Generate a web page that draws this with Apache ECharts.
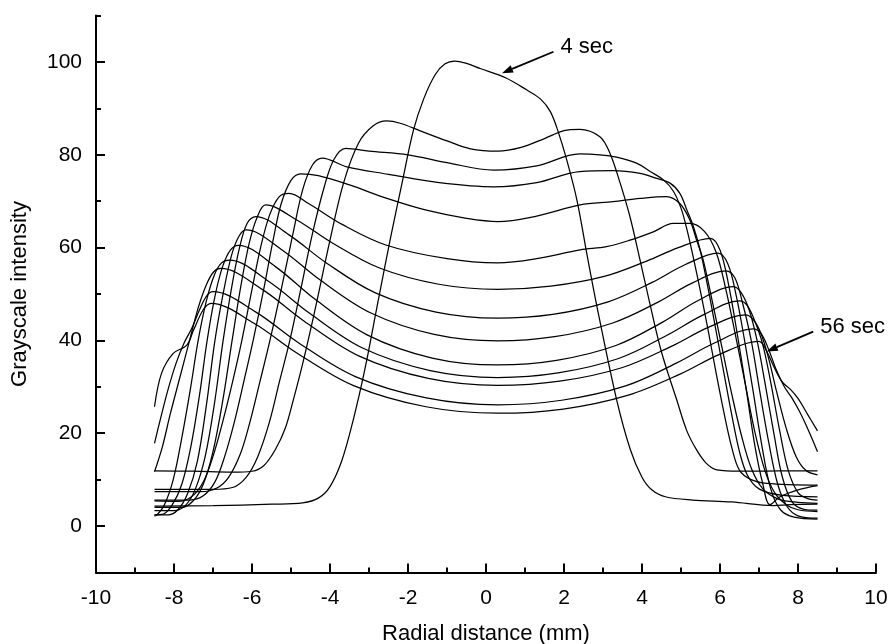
<!DOCTYPE html>
<html>
<head>
<meta charset="utf-8">
<script src="https://cdn.jsdelivr.net/npm/echarts@6/dist/echarts.min.js"></script>
<style>
  html, body { margin: 0; padding: 0; background: #fff; }
  #chart { width: 889px; height: 644px; }
</style>
</head>
<body>
<div id="chart"></div>
<script>
// radial profiles, [radial distance (mm), grayscale intensity], one per 4 s
const t04 = [[-8.5,4.3],[-7.0,4.4],[-5.5,4.7],[-4.7,5.0],[-4.3,6.0],[-4.0,8.5],[-3.7,14],[-3.4,23],[-3.1,34],[-2.8,47],[-2.46,61.6],[-2.15,74],[-1.86,85.3],[-1.6,92],[-1.3,97.3],[-1.05,99.6],[-0.8,100.2],[-0.5,99.7],[-0.15,98.6],[0.5,96.6],[1.04,94.0],[1.4,92],[1.65,89.3],[1.85,85],[2.07,78.9],[2.33,70.3],[2.6,58],[2.9,45],[3.35,27.2],[3.7,16.5],[4.0,10.5],[4.25,7.8],[4.6,6.3],[5.3,5.6],[6.3,5.2],[7.36,4.4],[7.8,4.6],[8.5,4.7]]
const t08 = [[-8.5,11.9],[-7.5,11.8],[-6.5,11.6],[-6.0,11.8],[-5.7,13],[-5.4,16.5],[-5.15,21],[-4.94,27.2],[-4.7,35],[-4.4,46],[-4.0,61.6],[-3.65,74],[-3.27,82.5],[-2.9,86.2],[-2.55,87.3],[-2.2,86.8],[-1.7,85.2],[-1.0,83.0],[-0.4,81.3],[0.3,80.8],[0.9,81.6],[1.5,83.5],[2.0,85.2],[2.4,85.5],[2.92,83.9],[3.18,80.3],[3.44,73.9],[3.69,66.7],[3.95,57.3],[4.2,48],[4.5,37.5],[4.89,27.2],[5.15,20.5],[5.4,16.4],[5.65,13.5],[5.92,12.1],[6.5,11.8],[7.5,11.9],[8.5,11.9]]
const t12 = [[-8.5,7.9],[-7.0,7.9],[-6.5,8.3],[-6.15,10.5],[-5.85,15],[-5.55,22.5],[-5.3,31],[-5.03,40],[-4.75,51],[-4.45,63],[-4.15,73],[-3.9,79],[-3.6,81.4],[-3.0,80.8],[-2.0,80.0],[-1.0,78.3],[0.2,76.7],[1.3,77.6],[2.4,80.2],[2.92,80.0],[3.35,79.5],[3.86,78.2],[4.21,76.4],[4.55,74.6],[4.8,72.2],[5.0,68.5],[5.15,64],[5.3,58.5],[5.5,50.5],[5.7,42],[5.9,33],[6.1,24.5],[6.3,17],[6.5,12],[6.8,10],[7.2,9.2],[8.5,8.8]]
const t16 = [[-8.5,7.4],[-7.3,7.4],[-6.9,8.2],[-6.6,10.5],[-6.3,15.5],[-6.05,22.5],[-5.8,31],[-5.54,40],[-5.25,51],[-4.95,63],[-4.7,72.5],[-4.45,77.8],[-4.2,79.3],[-3.57,77.4],[-2.5,75.8],[-1.2,74],[0.2,73.1],[1.3,74],[2.4,76.4],[3.26,76.6],[3.95,76.0],[4.38,74.9],[4.72,73.9],[4.97,71.7],[5.15,68.1],[5.32,64.5],[5.49,59.5],[5.7,51],[5.9,42],[6.1,33],[6.3,24],[6.5,16],[6.7,11],[7.0,8],[7.6,6.6],[8.5,6.3]]
const t20 = [[-8.5,5.6],[-7.6,5.6],[-7.25,6.5],[-6.95,9.5],[-6.7,15],[-6.45,22.5],[-6.2,31.5],[-5.97,40],[-5.7,51],[-5.45,62],[-5.25,69.5],[-5.0,74.5],[-4.75,75.9],[-4.3,75.5],[-3.5,73.5],[-2.5,70.5],[-1.5,68],[-0.5,66.3],[0.3,65.6],[1.3,66.8],[2.41,69.2],[3.26,69.9],[3.95,70.6],[4.63,71.0],[4.97,69.5],[5.23,65.9],[5.4,61.6],[5.57,57.3],[5.8,48.5],[6.05,38.5],[6.3,28.5],[6.55,19.5],[6.8,12.5],[7.1,8],[7.5,5.8],[8.0,5.1],[8.5,4.9]]
const t24 = [[-8.5,5.4],[-7.9,5.3],[-7.55,6.3],[-7.25,9.5],[-7.0,15],[-6.75,22.5],[-6.5,31],[-6.26,40],[-6.0,51],[-5.78,60],[-5.55,67],[-5.3,71],[-5.05,71.7],[-4.55,69.5],[-3.69,65.0],[-2.55,60.5],[-1.0,57.6],[0.3,56.7],[1.3,57.6],[2.41,59.5],[3.09,60.2],[3.69,61.6],[4.29,63.4],[4.8,65.2],[5.23,65.2],[5.6,63.5],[5.9,59],[6.15,51],[6.4,41],[6.65,30.5],[6.9,20],[7.15,12],[7.4,7.2],[7.7,4.6],[8.0,3.5],[8.5,3.1]]
const t28 = [[-8.5,4.0],[-7.8,4.0],[-7.5,5.5],[-7.25,9],[-7.0,16],[-6.75,27],[-6.51,40],[-6.28,52],[-6.07,61],[-5.87,66.5],[-5.65,69.2],[-4.84,65.9],[-3.94,61.0],[-2.73,55.6],[-1.21,52.1],[0.3,51.0],[1.66,51.7],[3.03,53.8],[4.12,57.1],[4.93,60.0],[5.75,62.0],[6.0,59.5],[6.22,52],[6.45,41],[6.68,29],[6.9,17],[7.1,9],[7.28,4.6],[7.54,6.3],[8.0,7.8],[8.5,8.7]]
const t32 = [[-8.5,3.3],[-8.0,3.3],[-7.7,4.5],[-7.45,8],[-7.2,15],[-6.97,26],[-6.74,40],[-6.52,51.5],[-6.32,60],[-6.12,65.3],[-5.9,66.7],[-5.06,62.8],[-4.11,56.8],[-2.85,50.3],[-1.28,46.1],[0.3,44.8],[1.71,45.6],[3.13,48.3],[4.26,52.5],[5.1,56.3],[5.95,58.8],[6.2,56.5],[6.42,49.5],[6.63,40],[6.85,29],[7.07,17.5],[7.3,8],[7.55,3.5],[7.9,1.9],[8.5,1.5]]
const t36 = [[-8.5,2.4],[-8.15,2.4],[-7.9,3.5],[-7.65,7],[-7.4,14],[-7.17,26],[-6.95,40],[-6.73,50.5],[-6.52,58.5],[-6.33,62.5],[-6.15,63.8],[-5.23,59.5],[-4.25,53.0],[-2.95,45.9],[-1.33,41.3],[0.3,39.9],[1.76,40.8],[3.23,43.7],[4.4,48.2],[5.27,52.3],[6.15,55.0],[6.38,53.5],[6.58,48],[6.8,40],[7.02,29],[7.25,18],[7.48,9],[7.72,4.2],[8.0,2.2],[8.5,1.7]]
const t40 = [[-8.5,2.4],[-8.3,2.5],[-8.05,4.5],[-7.8,9],[-7.57,17],[-7.35,28],[-7.15,40],[-6.95,49.5],[-6.75,56],[-6.55,59.5],[-6.35,60.5],[-5.4,55.9],[-4.39,48.9],[-3.05,41.2],[-1.38,36.2],[0.3,34.7],[1.81,35.7],[3.33,38.9],[4.54,44.0],[5.44,48.6],[6.35,51.6],[6.55,50.2],[6.75,46.5],[6.95,40],[7.15,31],[7.38,20],[7.6,10.5],[7.85,5.2],[8.15,3.6],[8.5,3.4]]
const t44 = [[-8.5,2.2],[-8.45,2.3],[-8.25,4.5],[-8.02,10],[-7.8,19],[-7.58,29.5],[-7.38,40],[-7.17,48.5],[-6.97,54],[-6.78,56.7],[-6.58,57.3],[-5.57,52.7],[-4.53,45.9],[-3.15,38.3],[-1.43,33.5],[0.3,32.0],[1.85,33.0],[3.4,36.1],[4.64,41.1],[5.57,45.5],[6.5,48.5],[6.7,47.5],[6.9,44],[7.1,39],[7.3,31],[7.52,21],[7.75,12],[8.0,7.2],[8.25,5.9],[8.5,5.6]]
const t48 = [[-8.5,11.7],[-8.3,17],[-8.1,24],[-7.85,32],[-7.6,40],[-7.38,47],[-7.17,52],[-6.98,54.8],[-6.8,55.5],[-5.74,51.0],[-4.67,44.2],[-3.25,36.6],[-1.48,31.8],[0.3,30.3],[1.89,31.2],[3.48,34.1],[4.75,38.7],[5.7,42.8],[6.65,45.5],[6.85,44.5],[7.05,41.5],[7.25,36],[7.45,29],[7.7,21],[7.95,15],[8.2,12],[8.5,11.0]]
const t52 = [[-8.5,17.8],[-8.35,23],[-8.15,29.5],[-7.95,35],[-7.75,39.3],[-7.55,42.5],[-7.35,46.5],[-7.17,49.5],[-7.0,50.5],[-5.9,46.1],[-4.81,39.5],[-3.35,32.2],[-1.53,27.6],[0.3,26.1],[1.94,27.1],[3.58,30.2],[4.88,35.1],[5.87,39.5],[6.85,42.5],[7.05,41.5],[7.25,38],[7.45,33.5],[7.65,30],[7.85,27.5],[8.05,24.5],[8.3,20],[8.5,16]]
const t56 = [[-8.5,25.7],[-8.32,32.9],[-8.02,37.2],[-7.67,39.0],[-7.5,42.2],[-7.25,46.6],[-7.05,48.0],[-5.95,43.7],[-4.85,37.3],[-3.38,30.2],[-1.54,25.7],[0.3,24.3],[1.98,25.2],[3.65,28.2],[4.99,32.8],[5.99,37.0],[7.0,39.8],[7.2,37.6],[7.4,34],[7.6,31],[7.8,29.5],[8.0,27.5],[8.25,24],[8.5,20.5]]

const profiles = [t04, t08, t12, t16, t20, t24, t28, t32, t36, t40, t44, t48, t52, t56]
const yMajorTicks = [0, 20, 40, 60, 80, 100]
const yMinorTicks = [10, 30, 50, 70, 90, 110]
// annotation arrows: [tail, head] in data units, and their captions
const arrowTails = [[1.73, 102.2], [8.39, 41.9]]
const arrowHeads = [[0.41, 97.6], [7.2, 37.6]]
const arrowTexts = ['4 sec', '56 sec']

const font = 'Liberation Sans, Arial, Helvetica, sans-serif'
const chart = echarts.init(document.getElementById('chart'), null, { renderer: 'canvas' })

const seriesData = profiles.map(function (pts, i) {
  return {
    name: (i + 1) * 4 + ' sec',
    type: 'line',
    data: pts,
    smooth: 0.35,
    showSymbol: false,
    silent: true,
    lineStyle: { color: '#000', width: 1.25 }
  }
})

chart.setOption({
  animation: false,
  backgroundColor: '#fff',
  grid: { left: 96, right: 13, top: 15.6, bottom: 71.6, outerBoundsMode: 'none', containLabel: false },
  xAxis: {
    type: 'value',
    min: -10,
    max: 10,
    interval: 2,
    name: 'Radial distance (mm)',
    nameLocation: 'middle',
    nameGap: 51,
    nameTextStyle: { fontFamily: font, fontSize: 22, color: '#000' },
    axisLine: { onZero: false, lineStyle: { color: '#000', width: 2 } },
    axisTick: { inside: true, length: 9, lineStyle: { color: '#000', width: 2 } },
    minorTick: { show: true, splitNumber: 2, length: 5, lineStyle: { color: '#000', width: 2 } },
    axisLabel: { fontFamily: font, fontSize: 21, color: '#000', margin: 15 },
    splitLine: { show: false }
  },
  yAxis: [{
    type: 'value',
    min: -10,
    max: 110,
    name: 'Grayscale intensity',
    nameLocation: 'middle',
    nameGap: 65,
    nameTextStyle: { fontFamily: font, fontSize: 22, color: '#000' },
    axisLine: { onZero: false, lineStyle: { color: '#000', width: 2 } },
    axisTick: { inside: true, length: 9, customValues: yMajorTicks, lineStyle: { color: '#000', width: 2 } },
    axisLabel: { fontFamily: font, fontSize: 21, color: '#000', margin: 14, customValues: yMajorTicks },
    splitLine: { show: false }
  }, {
    type: 'value',
    min: -10,
    max: 110,
    position: 'left',
    axisLine: { show: false, onZero: false },
    axisTick: { inside: true, length: 5, customValues: yMinorTicks, lineStyle: { color: '#000', width: 2 } },
    axisLabel: { show: false },
    splitLine: { show: false }
  }],
  series: seriesData
})

// arrows and captions, placed from their data positions
const graphics = []
arrowTails.forEach(function (tail, i) {
  const a = chart.convertToPixel({ gridIndex: 0 }, tail)
  const b = chart.convertToPixel({ gridIndex: 0 }, arrowHeads[i])
  const dx = b[0] - a[0]
  const dy = b[1] - a[1]
  const len = Math.sqrt(dx * dx + dy * dy)
  const ux = dx / len
  const uy = dy / len
  const headLen = 11
  const headHalf = 4
  const bx = b[0] - ux * headLen
  const by = b[1] - uy * headLen
  graphics.push({
    type: 'line',
    shape: { x1: a[0], y1: a[1], x2: bx, y2: by },
    style: { stroke: '#000', lineWidth: 1.8 }
  })
  graphics.push({
    type: 'polygon',
    shape: { points: [[b[0], b[1]], [bx - uy * headHalf, by + ux * headHalf], [bx + uy * headHalf, by - ux * headHalf]] },
    style: { fill: '#000' }
  })
  graphics.push({
    type: 'text',
    x: a[0] + 7,
    y: a[1] - 5,
    style: { text: arrowTexts[i], font: '22px ' + font, fill: '#000', verticalAlign: 'middle', align: 'left' }
  })
})
chart.setOption({ graphic: graphics })
</script>
</body>
</html>
